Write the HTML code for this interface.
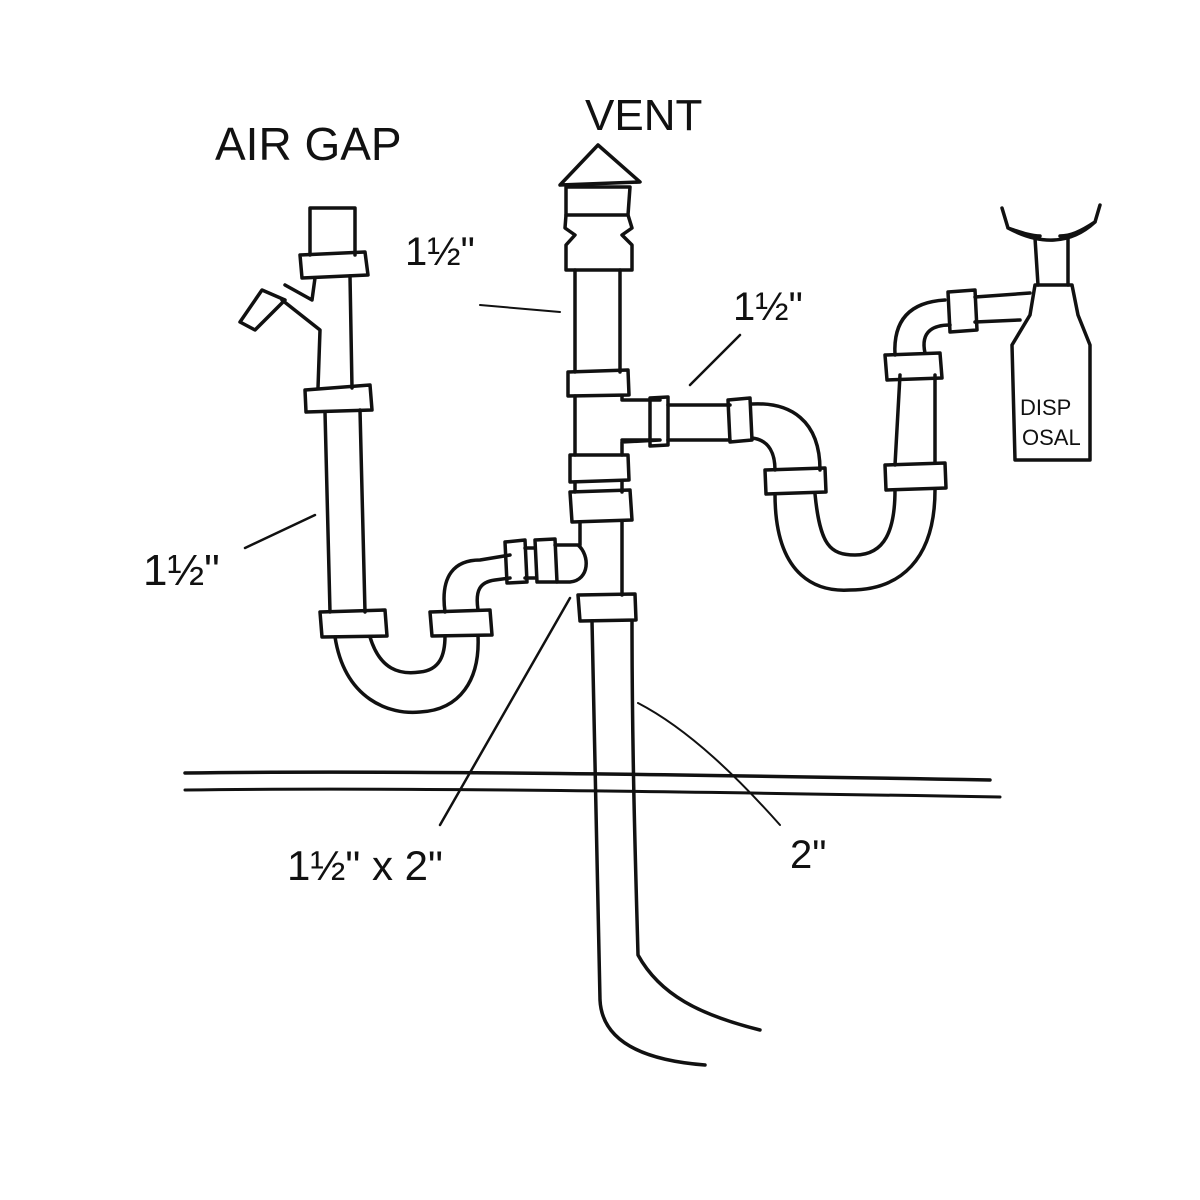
<!DOCTYPE html>
<html><head><meta charset="utf-8"><style>
html,body{margin:0;padding:0;background:#fff;}
svg{display:block;}
text{font-family:"Liberation Sans",sans-serif;fill:#111;}
</style></head><body>
<svg width="1200" height="1200" viewBox="0 0 1200 1200" xmlns="http://www.w3.org/2000/svg">
<g fill="none" stroke="#111" stroke-width="3.5" stroke-linecap="round" stroke-linejoin="round">
<path d="M310 208 L355 208 L355 255 M310 208 L310 255"/>
<path d="M300 255 L365 252 L368 275 L302 278 Z"/>
<path d="M315 278 L312 300 L285 285 M282 300 L320 330 L318 388"/>
<path d="M350 276 L352 388"/>
<path d="M262 290 L240 322 L255 330 L285 300 Z"/>
<path d="M305 390 L370 385 L372 410 L306 412 Z"/>
<path d="M325 412 L330 612 M360 410 L365 612"/>
<path d="M320 612 L385 610 L387 636 L322 637 Z"/>
<path d="M335 637 C345 700 390 715 420 712 C460 710 480 680 478 636"/>
<path d="M370 637 C380 670 400 675 420 672 C440 670 445 655 445 636"/>
<path d="M430 612 L490 610 L492 635 L432 636 Z"/>
<path d="M445 612 C440 575 455 560 480 560 L510 555 M478 610 C475 590 480 582 495 580 L510 578"/>
<path d="M505 542 L525 540 L527 582 L507 583 Z"/>
<path d="M535 540 L555 539 L557 582 L537 582 Z"/>
<path d="M525 548 L535 548 M525 578 L535 578 M555 545 L578 545 C590 555 590 580 570 582 L557 582"/>
<path d="M560 185 L598 145 L640 182 Z"/>
<path d="M566 187 L630 187 L628 215 L566 215 Z"/>
<path d="M566 215 L565 228 L575 235 L566 245 L566 270 L632 270 L632 245 L622 235 L632 228 L628 215"/>
<path d="M575 270 L575 372 M620 270 L620 372"/>
<path d="M568 372 L628 370 L629 395 L568 396 Z"/>
<path d="M575 396 L575 455 M622 396 L622 400 L660 400 M622 440 L660 440 L622 442 L622 455"/>
<path d="M570 455 L628 455 L629 480 L570 482 Z"/>
<path d="M575 482 L575 492 M622 482 L622 492"/>
<path d="M570 492 L630 490 L632 520 L572 522 Z"/>
<path d="M580 522 L580 545 M622 522 L622 595"/>
<path d="M578 595 L635 594 L636 620 L580 621 Z"/>
<path d="M592 621 C595 760 598 900 600 1000 C602 1040 640 1060 705 1065"/>
<path d="M632 621 C632 760 636 880 638 955 C660 995 700 1015 760 1030"/>
<path d="M650 398 L668 397 L668 445 L650 446 Z"/>
<path d="M668 405 L730 405 M668 440 L730 440"/>
<path d="M728 400 L750 398 L752 440 L730 442 Z"/>
<path d="M752 404 C790 402 820 420 820 470 M752 438 C770 440 775 455 775 470"/>
<path d="M765 470 L825 468 L826 492 L766 494 Z"/>
<path d="M775 494 C775 580 820 592 850 590 C900 590 935 560 935 490 M815 494 C820 545 830 555 855 555 C885 555 895 530 895 490"/>
<path d="M885 465 L945 463 L946 488 L886 490 Z"/>
<path d="M895 465 L900 375 M935 463 L935 375"/>
<path d="M885 355 L940 353 L942 378 L887 380 Z"/>
<path d="M895 355 C893 320 910 302 945 300 M925 353 C920 330 935 325 950 325"/>
<path d="M948 292 L975 290 L977 330 L950 332 Z"/>
<path d="M975 297 L1030 293 M975 322 L1020 320"/>
<path d="M1002 208 L1008 228 C1040 245 1070 245 1095 222 L1100 205 M1008 228 C1020 232 1030 236 1040 236 M1095 222 C1080 232 1070 236 1060 236"/>
<path d="M1035 238 L1038 285 M1068 238 L1068 285"/>
<path d="M1035 285 L1072 285 L1078 315 L1090 345 L1090 460 L1015 460 L1012 345 L1030 315 Z"/>
<path d="M185 773 C400 770 700 775 990 780"/>
<path d="M185 790 C400 787 700 792 1000 797" stroke-width="3"/>
<path d="M480 305 L560 312" stroke-width="2"/>
<path d="M245 548 L315 515" stroke-width="2.5"/>
<path d="M690 385 L740 335" stroke-width="2.5"/>
<path d="M440 825 L570 598" stroke-width="2.5"/>
<path d="M638 703 C690 730 740 780 780 825" stroke-width="2"/>
</g>
<text x="215" y="160" font-size="46">AIR GAP</text>
<text x="585" y="130" font-size="44">VENT</text>
<text x="405" y="265" font-size="40">1½"</text>
<text x="733" y="320" font-size="40">1½"</text>
<text x="143" y="585" font-size="44">1½"</text>
<text x="287" y="880" font-size="42">1½" x 2"</text>
<text x="790" y="868" font-size="40">2"</text>
<text x="1020" y="415" font-size="22">DISP</text>
<text x="1022" y="445" font-size="22">OSAL</text>
</svg>
</body></html>
